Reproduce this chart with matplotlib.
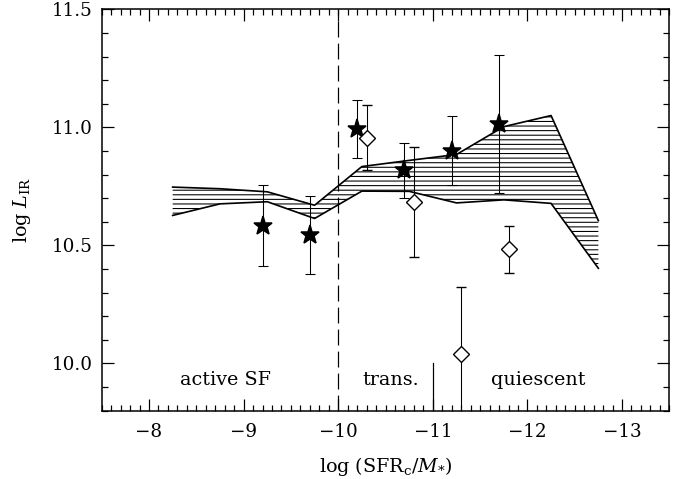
import matplotlib
matplotlib.use("Agg")
import matplotlib.pyplot as plt
from matplotlib.ticker import MultipleLocator, FuncFormatter

plt.rcParams["font.family"] = ["DejaVu Serif"]
plt.rcParams["mathtext.fontset"] = "dejavuserif"
plt.rcParams["hatch.linewidth"] = 0.7

# model band (upper / lower envelope)
band_x = [-8.25, -8.75, -9.25, -9.75, -10.25, -10.75, -11.25, -11.75, -12.25, -12.75]
band_hi = [10.747, 10.740, 10.727, 10.670, 10.834, 10.860, 10.885, 11.003, 11.050, 10.605]
band_lo = [10.627, 10.676, 10.685, 10.614, 10.730, 10.729, 10.680, 10.693, 10.678, 10.403]

# filled stars
star_x = [-9.2, -9.7, -10.2, -10.7, -11.2, -11.7]
star_y = [10.584, 10.544, 10.993, 10.818, 10.901, 11.014]
star_err = [0.172, 0.164, 0.121, 0.117, 0.145, 0.294]

# open diamonds
diam_x = [-10.3, -10.8, -11.3, -11.8]
diam_y = [10.957, 10.683, 10.039, 10.484]
diam_err = [0.138, 0.233, 0.285, 0.099]

regions = ["active SF", "trans.", "quiescent"]
region_x = [-8.81, -10.56, -12.11]

DPI = 110
fig = plt.figure(figsize=(680 / DPI, 479 / DPI), dpi=DPI)
ax = fig.add_axes([0.1496, 0.1426, 0.9843 - 0.1496, 0.9806 - 0.1426])

ax.fill_between(band_x, band_lo, band_hi, facecolor="none", edgecolor="black",
                hatch="----", linewidth=0)
ax.plot(band_x, band_hi, color="black", lw=1.1)
ax.plot(band_x, band_lo, color="black", lw=1.1)

ax.errorbar(star_x, star_y, yerr=star_err, fmt="*", ms=13, mfc="black", mec="black",
            ecolor="black", elinewidth=0.7, capsize=3, capthick=0.7)
ax.errorbar(diam_x, diam_y, yerr=diam_err, fmt="D", ms=7, mfc="white", mec="black",
            mew=0.9, ecolor="black", elinewidth=0.7, capsize=3, capthick=0.7)

ax.axvline(-10, color="black", lw=0.8, dashes=(13, 5))
ax.plot([-11, -11], [9.8, 10.0], color="black", lw=0.8)

for lab, xx in zip(regions, region_x):
    ax.text(xx, 9.93, lab, ha="center", va="center", fontsize=12.5)

ax.set_xlim(-7.5, -13.5)
ax.set_ylim(9.8, 11.5)
ax.xaxis.set_major_locator(MultipleLocator(1))
ax.xaxis.set_minor_locator(MultipleLocator(0.1))
ax.yaxis.set_major_locator(MultipleLocator(0.5))
ax.yaxis.set_minor_locator(MultipleLocator(0.1))
ax.xaxis.set_major_formatter(FuncFormatter(lambda v, p: f"{v:.0f}".replace("-", "\u2212")))
ax.yaxis.set_major_formatter(FuncFormatter(lambda v, p: f"{v:.1f}"))
ax.tick_params(which="both", direction="in", top=True, right=True, width=0.8,
               labelsize=12)
ax.tick_params(which="major", length=8)
ax.tick_params(which="minor", length=4)
ax.tick_params(axis="x", which="major", pad=8)
ax.tick_params(axis="y", which="major", pad=6)
for s in ax.spines.values():
    s.set_linewidth(1.0)

ax.set_xlabel(r"log (SFR$_{\rm c}$/$M_{*}$)", fontsize=12.5, labelpad=9)
ax.set_ylabel(r"log $L_{\rm IR}$", fontsize=12.5, labelpad=12)

fig.savefig("out.png", dpi=DPI)
